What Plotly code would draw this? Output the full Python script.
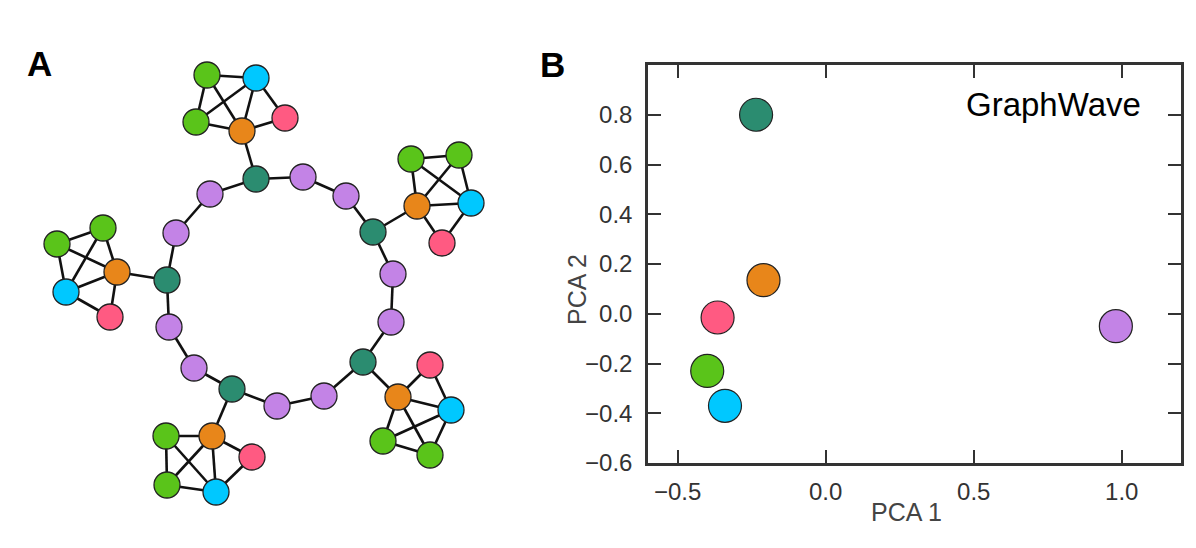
import plotly.graph_objects as go

# ---------------- Panel A: network ----------------
role_colors = {
    "teal": "#2b8c70",
    "purple": "#c383e6",
    "green": "#5ac41a",
    "blue": "#00c8ff",
    "orange": "#e8861a",
    "pink": "#ff5a82",
}

# node layout positions
node_x = [256, 303, 346, 373, 393, 391, 363, 324, 277, 232, 194, 169, 167, 176, 210,
          242, 207, 256, 196, 285,
          417, 411, 459, 471, 442,
          398, 430, 451, 383, 430,
          212, 166, 167, 216, 252,
          117, 57, 103, 66, 110]
node_y = [179, 177, 196, 232, 274, 322, 362, 396, 406, 389, 368, 327, 280, 233, 194,
          131, 75, 78, 122, 118,
          206, 159, 155, 203, 243,
          397, 365, 410, 441, 455,
          436, 436, 485, 492, 457,
          272, 244, 228, 292, 317]
node_role = (["teal", "purple", "purple"] * 5
             + ["orange", "green", "blue", "green", "pink"]
             + ["orange", "green", "green", "blue", "pink"]
             + ["orange", "pink", "blue", "green", "green"]
             + ["orange", "green", "green", "blue", "pink"]
             + ["orange", "green", "green", "blue", "pink"])

ring_edges = [(i, (i + 1) % 15) for i in range(15)]
clique_edges = [
    (0, 15), (16, 17), (16, 18), (16, 15), (18, 17), (18, 15), (17, 15), (17, 19), (19, 15),
    (3, 20), (21, 22), (21, 20), (21, 23), (22, 20), (22, 23), (20, 23), (20, 24), (23, 24),
    (6, 25), (25, 26), (26, 27), (25, 27), (25, 28), (25, 29), (28, 27), (28, 29), (29, 27),
    (9, 30), (31, 30), (31, 32), (31, 33), (32, 30), (32, 33), (30, 33), (30, 34), (33, 34),
    (12, 35), (36, 37), (36, 35), (36, 38), (37, 35), (37, 38), (35, 38), (35, 39), (38, 39),
]
edges = ring_edges + clique_edges

# ---------------- Panel B: PCA scatter ----------------
pca_roles = ["teal", "orange", "pink", "green", "blue", "purple"]
pca1 = [-0.235, -0.21, -0.365, -0.40, -0.34, 0.98]
pca2 = [0.80, 0.135, -0.015, -0.23, -0.37, -0.05]
x_ticks = [-0.5, 0.0, 0.5, 1.0]
x_tick_text = ["\u22120.5", "0.0", "0.5", "1.0"]
y_ticks = [-0.6, -0.4, -0.2, 0.0, 0.2, 0.4, 0.6, 0.8]
y_tick_text = ["\u22120.6", "\u22120.4", "\u22120.2", "0.0", "0.2", "0.4", "0.6", "0.8"]

W, H = 1196, 548
FONT = "Liberation Sans, Arial, sans-serif"
fig = go.Figure()

ex, ey = [], []
for a, b in edges:
    ex += [node_x[a], node_x[b], None]
    ey += [node_y[a], node_y[b], None]
fig.add_trace(go.Scatter(x=ex, y=ey, mode="lines", line=dict(color="#111111", width=2.6),
                         xaxis="x2", yaxis="y2", hoverinfo="skip", showlegend=False))
fig.add_trace(go.Scatter(x=node_x, y=node_y, mode="markers",
                         marker=dict(size=26, color=[role_colors[r] for r in node_role],
                                     line=dict(color="#222222", width=1.3)),
                         xaxis="x2", yaxis="y2", showlegend=False))
fig.add_trace(go.Scatter(x=pca1, y=pca2, mode="markers",
                         marker=dict(size=33, color=[role_colors[r] for r in pca_roles],
                                     line=dict(color="#222222", width=1.2)),
                         xaxis="x", yaxis="y", showlegend=False))

axis_common = dict(showgrid=False, zeroline=False, showline=True, linecolor="#333333",
                   linewidth=2.5, mirror="ticks", ticks="inside", ticklen=13, tickwidth=2.2,
                   tickcolor="#333333", automargin=False,
                   tickfont=dict(family=FONT, size=24, color="#333333"))


def ann(text, px, py, size, color="black", angle=0, xanchor="center"):
    return dict(text=text, x=px / W, y=1 - py / H, xref="paper", yref="paper",
                xanchor=xanchor, yanchor="middle", showarrow=False, textangle=angle,
                font=dict(family=FONT, size=size, color=color))


fig.update_layout(
    width=W, height=H,
    margin=dict(l=0, r=0, t=0, b=0, pad=0, autoexpand=False),
    paper_bgcolor="white", plot_bgcolor="white",
    xaxis=dict(domain=[648 / W, 1181 / W], range=[-0.6, 1.2], tickvals=x_ticks,
               ticktext=x_tick_text, ticklabelstandoff=5, **axis_common),
    yaxis=dict(domain=[1 - 463 / H, 1 - 65 / H], range=[-0.6, 1.0], tickvals=y_ticks,
               ticktext=y_tick_text, ticklabelstandoff=8, **axis_common),
    xaxis2=dict(domain=[0, 520 / W], range=[0, 520], visible=False, fixedrange=True,
                automargin=False),
    yaxis2=dict(domain=[0, 1], range=[H, 0], visible=False, fixedrange=True,
                automargin=False),
    annotations=[
        ann("<b>A</b>", 39, 64, 35),
        ann("<b>B</b>", 552, 65, 35),
        ann("GraphWave", 1143, 104, 33, xanchor="right"),
        ann("PCA 1", 906, 512, 25, color="#444444"),
        ann("PCA 2", 577, 290, 25, color="#444444", angle=-90),
    ],
)

fig.write_html(
    "out.html",
    config={"displayModeBar": False},
    post_script="document.body.style.margin='0';",
)
